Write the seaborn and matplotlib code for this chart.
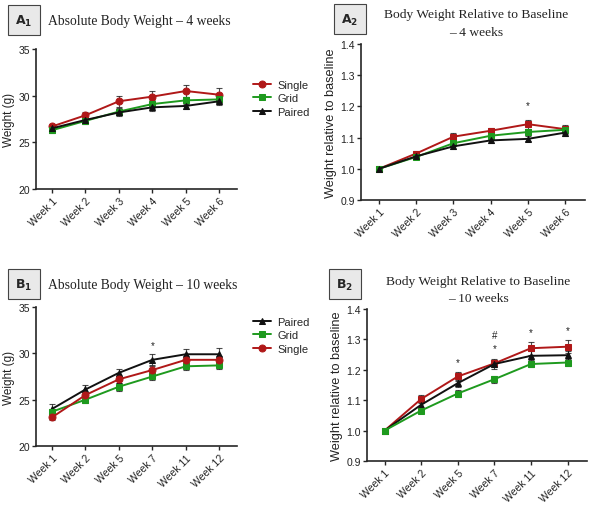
import numpy as np
import pandas as pd
import matplotlib
matplotlib.use('Agg')
import matplotlib.pyplot as plt
import seaborn as sns

# ---- data ----
weeks_a = ['Week 1', 'Week 2', 'Week 3', 'Week 4', 'Week 5', 'Week 6']
weeks_b = ['Week 1', 'Week 2', 'Week 5', 'Week 7', 'Week 11', 'Week 12']

# A1 absolute weight (g), 4 weeks
a1_single = [26.7, 27.9, 29.4, 29.9, 30.5, 30.1]
a1_single_err = [0.3, 0.4, 0.6, 0.55, 0.6, 0.75]
a1_grid = [26.3, 27.3, 28.3, 29.1, 29.5, 29.6]
a1_grid_err = [0.3, 0.3, 0.4, 0.4, 0.4, 0.4]
a1_paired = [26.5, 27.4, 28.2, 28.75, 28.9, 29.4]
a1_paired_err = [0.3, 0.3, 0.35, 0.4, 0.35, 0.4]

# A2 relative to baseline, 4 weeks
a2_single = [1.0, 1.049, 1.103, 1.122, 1.143, 1.127]
a2_single_err = [0.003, 0.008, 0.012, 0.01, 0.015, 0.013]
a2_grid = [1.0, 1.038, 1.082, 1.106, 1.118, 1.125]
a2_grid_err = [0.003, 0.008, 0.01, 0.01, 0.01, 0.012]
a2_paired = [1.0, 1.04, 1.072, 1.091, 1.096, 1.116]
a2_paired_err = [0.003, 0.007, 0.008, 0.008, 0.008, 0.01]

# B1 absolute weight (g), 10 weeks
b1_paired = [24.0, 26.1, 27.9, 29.3, 29.9, 29.9]
b1_paired_err = [0.5, 0.45, 0.45, 0.6, 0.6, 0.7]
b1_grid = [23.7, 25.0, 26.4, 27.5, 28.6, 28.7]
b1_grid_err = [0.3, 0.35, 0.45, 0.4, 0.4, 0.4]
b1_single = [23.1, 25.5, 27.2, 28.2, 29.3, 29.3]
b1_single_err = [0.3, 0.35, 0.4, 0.4, 0.4, 0.4]

# B2 relative to baseline, 10 weeks
b2_single = [1.0, 1.104, 1.178, 1.221, 1.271, 1.276]
b2_single_err = [0.003, 0.012, 0.015, 0.012, 0.022, 0.022]
b2_paired = [1.0, 1.085, 1.156, 1.219, 1.246, 1.248]
b2_paired_err = [0.003, 0.01, 0.012, 0.015, 0.015, 0.015]
b2_grid = [1.0, 1.066, 1.122, 1.169, 1.219, 1.224]
b2_grid_err = [0.003, 0.008, 0.01, 0.012, 0.01, 0.01]

# significance marks: (week index, y, text)
a2_marks = [(4, 1.205, '*')]
b1_marks = [(3, 30.9, '*')]
b2_marks = [(2, 1.224, '*'), (3, 1.271, '*'), (3, 1.314, '#'), (4, 1.325, '*'), (5, 1.331, '*')]

RED = '#b01818'
GREEN = '#1e9a1e'
BLACK = '#111111'

sns.set_style('ticks')
plt.rcParams['font.family'] = ['Liberation Sans', 'DejaVu Sans']

fig = plt.figure(figsize=(5.89, 5.06), dpi=100)
W, H = 589.0, 506.0


def px_axes(left, top, right, bottom):
    return fig.add_axes([left / W, 1 - bottom / H, (right - left) / W, (bottom - top) / H])


def draw_panel(ax, weeks, series, ylim, yticks, ylabel, yfmt, ylabel_size):
    x = np.arange(len(weeks))
    for name, vals, errs, color, marker in series:
        df = pd.DataFrame({'x': x, 'y': vals})
        ax.errorbar(x, vals, yerr=errs, fmt='none', ecolor=BLACK, elinewidth=0.8,
                    capsize=2.5, capthick=0.8, alpha=0.75, zorder=2)
        sns.lineplot(data=df, x='x', y='y', ax=ax, color=color, marker=marker,
                     markersize=5, markeredgecolor=color, linewidth=1.4, label=name, zorder=3)
    ax.set_xlim(-0.48, len(weeks) - 0.47)
    ax.set_ylim(*ylim)
    ax.set_yticks(yticks)
    ax.set_yticklabels([yfmt.format(t) for t in yticks], fontsize=7.5, color='#222222')
    ax.set_xticks(x)
    ax.set_xticklabels(weeks, rotation=45, ha='right', rotation_mode='anchor', fontsize=7.5,
                       color='#222222')
    ax.set_xlabel('')
    ax.set_ylabel(ylabel, fontsize=ylabel_size, color='#222222', labelpad=2)
    ax.tick_params(length=3, width=1, pad=1.5)
    for s in ['top', 'right']:
        ax.spines[s].set_visible(False)
    for s in ['left', 'bottom']:
        ax.spines[s].set_linewidth(1.2)
    ax.set_facecolor('white')


def box_label(x, y, letter, sub):
    fig.text(x / W, 1 - y / H, r'$\mathbf{' + letter + r'}_{\mathbf{' + sub + r'}}$',
             fontsize=9, ha='center', va='center',
             bbox=dict(boxstyle='square,pad=0.6', facecolor='#e9e9e9', edgecolor='#444444', lw=0.8))


serif = ['Liberation Serif', 'DejaVu Serif']

# A1
ax1 = px_axes(36, 50, 237, 190)
draw_panel(ax1, weeks_a,
           [('Single', a1_single, a1_single_err, RED, 'o'),
            ('Grid', a1_grid, a1_grid_err, GREEN, 's'),
            ('Paired', a1_paired, a1_paired_err, BLACK, '^')],
           (20, 35), [20, 25, 30, 35], 'Weight (g)', '{:.0f}', 8.5)
ax1.legend(loc='upper left', bbox_to_anchor=(1.03, 0.85), frameon=False, fontsize=8,
           handlelength=1.6, labelspacing=0.3, handletextpad=0.6)
box_label(24, 21, 'A', '1')
fig.text(48 / W, 1 - 22 / H, 'Absolute Body Weight \u2013 4 weeks', family=serif, fontsize=9.8,
         va='center', ha='left', color='#222222')

# A2
ax2 = px_axes(361, 45, 585, 201)
draw_panel(ax2, weeks_a,
           [('Single', a2_single, a2_single_err, RED, 's'),
            ('Grid', a2_grid, a2_grid_err, GREEN, 's'),
            ('Paired', a2_paired, a2_paired_err, BLACK, '^')],
           (0.9, 1.4), [0.9, 1.0, 1.1, 1.2, 1.3, 1.4], 'Weight relative to baseline', '{:.1f}', 9.2)
ax2.get_legend().remove()
for i, yv, t in a2_marks:
    ax2.text(i, yv, t, ha='center', va='center', fontsize=7, color='#222222')
box_label(350, 20, 'A', '2')
fig.text(476 / W, 1 - 15 / H, 'Body Weight Relative to Baseline', family=serif, fontsize=9.7,
         ha='center', va='center', color='#222222')
fig.text(476 / W, 1 - 33 / H, '\u2013 4 weeks', family=serif, fontsize=9.7,
         ha='center', va='center', color='#222222')

# B1
ax3 = px_axes(36, 308, 237, 447)
draw_panel(ax3, weeks_b,
           [('Paired', b1_paired, b1_paired_err, BLACK, '^'),
            ('Grid', b1_grid, b1_grid_err, GREEN, 's'),
            ('Single', b1_single, b1_single_err, RED, 'o')],
           (20, 35), [20, 25, 30, 35], 'Weight (g)', '{:.0f}', 8.5)
ax3.legend(loc='upper left', bbox_to_anchor=(1.03, 1.0), frameon=False, fontsize=8,
           handlelength=1.6, labelspacing=0.3, handletextpad=0.6)
for i, yv, t in b1_marks:
    ax3.text(i, yv, t, ha='center', va='center', fontsize=7, color='#222222')
box_label(24, 285, 'B', '1')
fig.text(48 / W, 1 - 286 / H, 'Absolute Body Weight \u2013 10 weeks', family=serif, fontsize=9.8,
         va='center', ha='left', color='#222222')

# B2
ax4 = px_axes(367, 310, 587, 462)
draw_panel(ax4, weeks_b,
           [('Single', b2_single, b2_single_err, RED, 's'),
            ('Paired', b2_paired, b2_paired_err, BLACK, '^'),
            ('Grid', b2_grid, b2_grid_err, GREEN, 's')],
           (0.9, 1.4), [0.9, 1.0, 1.1, 1.2, 1.3, 1.4], 'Weight relative to baseline', '{:.1f}', 9.2)
ax4.get_legend().remove()
for i, yv, t in b2_marks:
    ax4.text(i, yv, t, ha='center', va='center', fontsize=7, color='#222222')
box_label(345, 285, 'B', '2')
fig.text(478 / W, 1 - 282 / H, 'Body Weight Relative to Baseline', family=serif, fontsize=9.7,
         ha='center', va='center', color='#222222')
fig.text(478 / W, 1 - 299 / H, '\u2013 10 weeks', family=serif, fontsize=9.7,
         ha='center', va='center', color='#222222')

fig.savefig('out.png', dpi=100)
